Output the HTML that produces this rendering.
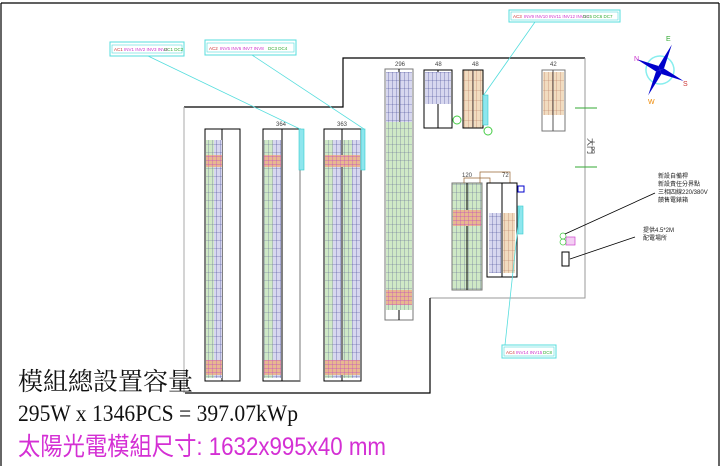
<!DOCTYPE html>
<html><head><meta charset="utf-8"><style>
html,body{margin:0;padding:0;background:#fff;width:720px;height:466px;overflow:hidden}
svg{display:block}
</style></head><body>
<svg width="720" height="466" viewBox="0 0 720 466" xmlns="http://www.w3.org/2000/svg" font-family="Liberation Sans, sans-serif">
<defs>
<pattern id="pg" width="4" height="8" patternUnits="userSpaceOnUse">
<rect width="4" height="8" fill="#cfe9c6"/><path d="M0 0V8M0 0H4" stroke="#5a5f8f" stroke-width="0.6"/></pattern>
<pattern id="pb" width="4" height="8" patternUnits="userSpaceOnUse">
<rect width="4" height="8" fill="#d7d7ef"/><path d="M0 0V8M0 0H4" stroke="#3a3f8f" stroke-width="0.6"/></pattern>
<pattern id="pt" width="4" height="10" patternUnits="userSpaceOnUse">
<rect width="4" height="10" fill="#f1dcc0"/><path d="M0 0V10M0 0H4" stroke="#b5735a" stroke-width="0.6"/></pattern>
<pattern id="po" width="4" height="4" patternUnits="userSpaceOnUse">
<rect width="4" height="4" fill="#e8b890"/><path d="M0 0V4M0 0H4" stroke="#c04ac0" stroke-width="0.7"/></pattern>
</defs>
<!-- frame -->
<path d="M1 3H719M1 3V466M719 3V466" stroke="#000" stroke-width="1.2" fill="none"/>
<!-- building -->
<path d="M184 107H343V58H585" stroke="#000" stroke-width="1.2" fill="none"/>
<path d="M585 58V298H430" stroke="#999" stroke-width="1" fill="none"/>
<path d="M184 107V393" stroke="#aaa" stroke-width="1" fill="none"/>
<path d="M185 393H430V298" stroke="#000" stroke-width="1.2" fill="none"/>
<!-- door marks -->
<path d="M575 108H597M575 167H597" stroke="#3a3" stroke-width="1"/>
<text x="588" y="138" font-size="8" transform="rotate(90 588 138)" fill="#333">大門</text>

<!-- column 1 -->
<rect x="205" y="129" width="35" height="252" fill="none" stroke="#000"/>
<line x1="222" y1="129" x2="222" y2="381" stroke="#000"/>
<rect x="206" y="140" width="8" height="238" fill="url(#pg)"/><rect x="214" y="140" width="8" height="238" fill="url(#pb)"/>
<rect x="206" y="155" width="16" height="12" fill="url(#po)"/><rect x="206" y="360" width="16" height="15" fill="url(#po)"/>
<!-- column 2 -->
<rect x="263" y="129" width="37" height="252" fill="none" stroke="#000"/>
<line x1="282" y1="129" x2="282" y2="381" stroke="#000"/>
<line x1="300" y1="170" x2="300" y2="381" stroke="#777"/>
<rect x="264" y="140" width="9" height="238" fill="url(#pg)"/><rect x="273" y="140" width="8" height="238" fill="url(#pb)"/>
<rect x="264" y="155" width="17" height="12" fill="url(#po)"/><rect x="264" y="360" width="17" height="15" fill="url(#po)"/>
<rect x="299" y="129" width="5" height="41" fill="#8ee6ee" stroke="#3cc" stroke-width="0.6"/>
<text x="276" y="126" font-size="6" fill="#444">364</text>
<!-- column 3 -->
<rect x="324" y="129" width="37" height="252" fill="none" stroke="#000"/>
<line x1="342" y1="129" x2="342" y2="381" stroke="#000"/>
<rect x="325" y="140" width="8" height="238" fill="url(#pg)"/><rect x="333" y="140" width="8" height="238" fill="url(#pb)"/>
<rect x="343" y="140" width="9" height="238" fill="url(#pg)"/><rect x="352" y="140" width="8" height="238" fill="url(#pb)"/>
<rect x="325" y="155" width="35" height="12" fill="url(#po)"/><rect x="325" y="360" width="35" height="15" fill="url(#po)"/>
<rect x="361" y="129" width="4" height="41" fill="#8ee6ee" stroke="#3cc" stroke-width="0.6"/>
<text x="337" y="126" font-size="6" fill="#444">363</text>
<!-- column 296 -->
<rect x="385" y="69" width="28" height="251" fill="none" stroke="#777"/>
<line x1="399" y1="69" x2="399" y2="320" stroke="#000"/>
<rect x="386" y="72" width="13" height="50" fill="url(#pb)"/><rect x="400" y="72" width="12" height="50" fill="url(#pb)"/>
<rect x="386" y="122" width="26" height="188" fill="url(#pg)"/>
<rect x="386" y="290" width="26" height="15" fill="url(#po)"/>
<text x="395" y="66" font-size="6" fill="#444">296</text>
<!-- 48 -->
<rect x="424" y="70" width="28" height="58" fill="#fff" stroke="#000"/>
<line x1="438" y1="70" x2="438" y2="128" stroke="#000"/>
<rect x="425" y="72" width="26" height="32" fill="url(#pb)"/>
<circle cx="457" cy="120" r="4" fill="none" stroke="#4c4"/>
<text x="435" y="66" font-size="6" fill="#444">48</text>
<!-- 45 -->
<rect x="463" y="70" width="20" height="58" fill="url(#pt)" stroke="#000"/>
<line x1="473" y1="70" x2="473" y2="128" stroke="#555"/>
<rect x="483" y="95" width="5" height="30" fill="#8ee6ee" stroke="#3cc" stroke-width="0.6"/>
<circle cx="488" cy="131" r="4" fill="none" stroke="#4c4"/>
<text x="472" y="66" font-size="6" fill="#444">48</text>
<!-- 42 -->
<rect x="542" y="70" width="23" height="61" fill="#fff" stroke="#777"/>
<rect x="543" y="72" width="21" height="43" fill="url(#pt)"/>
<line x1="553" y1="70" x2="553" y2="131" stroke="#555"/>
<text x="550" y="66" font-size="6" fill="#444">42</text>
<!-- 120 -->
<rect x="452" y="183" width="30" height="107" fill="url(#pg)" stroke="#777"/>
<line x1="467" y1="183" x2="467" y2="290" stroke="#000"/>
<rect x="453" y="210" width="28" height="16" fill="url(#po)"/>
<text x="462" y="177" font-size="6" fill="#444">120</text>
<path d="M464 183V178H490V183M480 183V172H510V183" stroke="#963" fill="none" stroke-width="0.7"/>
<!-- 72 -->
<rect x="487" y="183" width="30" height="94" fill="#fff" stroke="#000"/>
<line x1="502" y1="183" x2="502" y2="277" stroke="#000"/>
<rect x="489" y="213" width="12" height="60" fill="url(#pb)"/>
<rect x="503" y="213" width="12" height="60" fill="url(#pt)"/>
<rect x="518" y="206" width="5" height="28" fill="#8ee6ee" stroke="#3cc" stroke-width="0.6"/>
<rect x="518" y="186" width="6" height="6" fill="none" stroke="#00c"/>
<text x="502" y="177" font-size="6" fill="#444">72</text>
<!-- meter -->
<rect x="566" y="237" width="9" height="8" fill="#f4d0f4" stroke="#c4c" stroke-width="0.7"/>
<circle cx="563" cy="236" r="3" fill="none" stroke="#4c4" stroke-width="0.7"/>
<circle cx="563" cy="242" r="3" fill="none" stroke="#4c4" stroke-width="0.7"/>
<rect x="562" y="252" width="7" height="14" fill="#fff" stroke="#000"/>
<path d="M565 234L655 193M570 259L635 237" stroke="#000" stroke-width="0.8"/>
<g font-size="6" fill="#222" font-family="Liberation Sans, Noto Sans CJK TC, sans-serif">
<text x="658" y="178">新設自備桿</text><text x="658" y="186">新設責任分界點</text><text x="658" y="194">三相四線220/380V</text><text x="658" y="202">饋售電錶箱</text>
<text x="643" y="232">提供4.5*2M</text><text x="643" y="240">配電場所</text>
</g>
<!-- leader lines -->
<path d="M148 56L300 129M252 55L364 129M535 22L483 96M520 207L505 345" stroke="#5dd" stroke-width="0.8" fill="none"/>
<!-- legend boxes -->
<g font-size="4.5" font-family="Liberation Sans, sans-serif">
<rect x="110" y="42" width="74" height="14" fill="#fff" stroke="#5dd"/>
<rect x="112" y="45" width="70" height="8" fill="none" stroke="#5dd" stroke-width="0.6"/>
<text x="114" y="51" fill="#c33">AC1</text><text x="124" y="51" fill="#c3c">INV1 INV2 INV3 INV4</text><text x="164" y="51" fill="#3a3">DC1 DC2</text>
<rect x="205" y="40" width="91" height="15" fill="#fff" stroke="#5dd"/>
<rect x="207" y="43" width="87" height="9" fill="none" stroke="#5dd" stroke-width="0.6"/>
<text x="209" y="50" fill="#c33">AC2</text><text x="220" y="50" fill="#c3c">INV5 INV6 INV7 INV8</text><text x="268" y="50" fill="#3a3">DC3 DC4</text>
<rect x="509" y="10" width="111" height="12" fill="#fff" stroke="#5dd"/>
<rect x="511" y="12" width="107" height="8" fill="none" stroke="#5dd" stroke-width="0.6"/>
<text x="513" y="18" fill="#c33">AC3</text><text x="524" y="18" fill="#c3c">INV9 INV10 INV11 INV12 INV13</text><text x="583" y="18" fill="#3a3">DC5 DC6 DC7</text>
<rect x="502" y="345" width="54" height="13" fill="#fff" stroke="#5dd"/>
<rect x="504" y="347" width="50" height="9" fill="none" stroke="#5dd" stroke-width="0.6"/>
<text x="506" y="354" fill="#c33">AC4</text><text x="516" y="354" fill="#c3c">INV14 INV15</text><text x="543" y="354" fill="#3a3">DC8</text>
</g>
<!-- compass -->
<g transform="translate(660,70) rotate(25)">
<circle r="14" fill="none" stroke="#8ee" stroke-width="1.5"/>
<polygon points="0,-28 3,-3 0,0 -3,-3" fill="#00c"/><polygon points="0,28 3,3 0,0 -3,3" fill="#00c"/>
<polygon points="-26,0 -3,-3 0,0 -3,3" fill="#00c"/><polygon points="26,0 3,-3 0,0 3,3" fill="#00c"/>
</g>
<text x="666" y="41" font-size="7" fill="#3a3">E</text><text x="634" y="61" font-size="7" fill="#c3c">N</text>
<text x="683" y="86" font-size="7" fill="#c33">S</text><text x="648" y="104" font-size="7" fill="#e80">W</text>
<!-- bottom text -->
<text x="18" y="390" font-size="25" fill="#111" font-family="Liberation Serif, Noto Serif CJK SC, serif">模組總設置容量</text>
<text x="18" y="421" font-size="23" fill="#111" font-family="Liberation Serif, serif" textLength="280" lengthAdjust="spacingAndGlyphs">295W x 1346PCS = 397.07kWp</text>
<text x="18" y="455" font-size="25" fill="#d42fd4" font-family="Liberation Sans, Noto Sans CJK TC, sans-serif" textLength="368" lengthAdjust="spacingAndGlyphs">太陽光電模組尺寸: 1632x995x40 mm</text>
</svg>
</body></html>
